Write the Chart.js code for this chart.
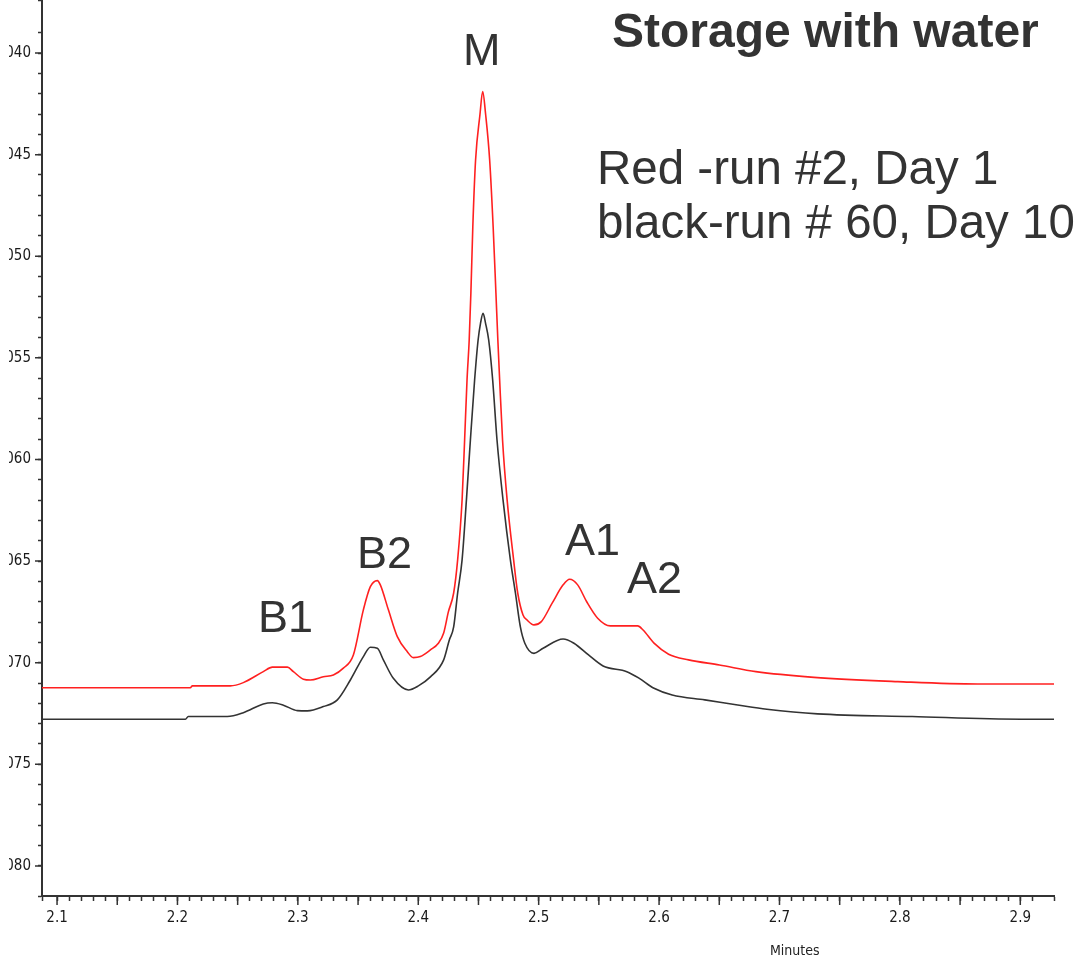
<!DOCTYPE html>
<html>
<head>
<meta charset="utf-8">
<script src="https://cdn.jsdelivr.net/npm/chart.js@4.4.1/dist/chart.umd.min.js"></script>
<style>
  html, body { margin: 0; padding: 0; background: #fff; }
  #wrap { position: relative; width: 1084px; height: 963px; overflow: hidden; }
  #clip { position: absolute; left: 9px; top: 0; width: 1075px; height: 963px; overflow: hidden; }
  #c { position: absolute; left: -9px; top: 0; }
  .t { position: absolute; font-family: 'Liberation Sans', Arial, sans-serif; color: #333; line-height: 1; white-space: nowrap; }
  .peak { font-size: 45px; }
  .note { font-size: 47.5px; }
  .title { font-size: 48px; font-weight: bold; }
  .axis { font-family: 'Liberation Sans Narrow', 'DejaVu Sans Condensed', 'Arial Narrow', sans-serif; font-size: 14px; color: #222; }
</style>
</head>
<body>
<div id="wrap">
  <div id="clip"><canvas id="c" width="1084" height="963"></canvas></div>
  <div class="t title" style="left:612px; top:7px;">Storage with water</div>
  <div class="t note" style="left:597px; top:144px;">Red -run #2, Day 1</div>
  <div class="t note" style="left:597px; top:198px;">black-run # 60, Day 10</div>
  <div class="t peak" style="left:463px; top:27px;">M</div>
  <div class="t peak" style="left:258px; top:594px;">B1</div>
  <div class="t peak" style="left:357px; top:530px;">B2</div>
  <div class="t peak" style="left:565px; top:517px;">A1</div>
  <div class="t peak" style="left:627px; top:555px;">A2</div>
  <div class="t axis" style="left:770px; top:943px;">Minutes</div>
</div>
<script>
// Red: run #2, Day 1
const redTime = [2.0875, 2.2107, 2.2124, 2.2439, 2.2547, 2.2713, 2.2788, 2.2913, 2.2963, 2.3046,
  2.3104, 2.3212, 2.3295, 2.3378, 2.3461, 2.3544, 2.3602, 2.3660, 2.3685, 2.3752,
  2.3826, 2.3909, 2.3959, 2.4017, 2.4101, 2.4167, 2.4211, 2.4250, 2.4294, 2.4327,
  2.4364, 2.4385, 2.4405, 2.4423, 2.4437, 2.4453, 2.4476, 2.4512, 2.4535, 2.4560,
  2.4593, 2.4622, 2.4645, 2.4661, 2.4676, 2.4700, 2.4738, 2.4792, 2.4826, 2.4870,
  2.4904, 2.4961, 2.5022, 2.5112, 2.5203, 2.5257, 2.5324, 2.5399, 2.5490, 2.5595,
  2.5822, 2.5867, 2.5958, 2.6079, 2.6245, 2.6501, 2.6804, 2.7287, 2.7982, 2.8646, 2.9280];
const redSignal = [-0.07123, -0.07123, -0.07114, -0.07114, -0.07098, -0.07044, -0.07022, -0.07022, -0.07044, -0.07081,
  -0.07085, -0.07069, -0.07060, -0.07027, -0.06962, -0.06740, -0.06626, -0.06596, -0.06617, -0.06740,
  -0.06872, -0.06946, -0.06975, -0.06970, -0.06937, -0.06904, -0.06854, -0.06750, -0.06657, -0.06494,
  -0.06199, -0.05904, -0.05609, -0.05412, -0.05181, -0.04856, -0.04526, -0.04305, -0.04190, -0.04305,
  -0.04526, -0.04856, -0.05181, -0.05412, -0.05609, -0.05904, -0.06199, -0.06494, -0.06657, -0.06765,
  -0.06790, -0.06814, -0.06798, -0.06707, -0.06617, -0.06589, -0.06617, -0.06700, -0.06781, -0.06819,
  -0.06819, -0.06839, -0.06904, -0.06958, -0.06986, -0.07011, -0.07044, -0.07072, -0.07093, -0.07105, -0.07105];

// Black: run #60, Day 10
const blackTime = [2.0875, 2.2066, 2.2090, 2.2414, 2.2547, 2.2713, 2.2788, 2.2880, 2.2996, 2.3079,
  2.3212, 2.3328, 2.3436, 2.3544, 2.3602, 2.3660, 2.3710, 2.3793, 2.3918, 2.4001,
  2.4101, 2.4211, 2.4258, 2.4294, 2.4327, 2.4364, 2.4400, 2.4433, 2.4468, 2.4497,
  2.4517, 2.4538, 2.4559, 2.4585, 2.4618, 2.4654, 2.4704, 2.4765, 2.4807, 2.4848,
  2.4885, 2.4961, 2.5037, 2.5203, 2.5293, 2.5414, 2.5535, 2.5732, 2.5836, 2.5958,
  2.6109, 2.6380, 2.6653, 2.6895, 2.7317, 2.8102, 2.9008, 2.9280];
const blackSignal = [-0.07278, -0.07278, -0.07265, -0.07265, -0.07246, -0.07203, -0.07197, -0.07209, -0.07236, -0.07237,
  -0.07216, -0.07183, -0.07085, -0.06970, -0.06924, -0.06929, -0.06986, -0.07077, -0.07134, -0.07114,
  -0.07070, -0.06986, -0.06888, -0.06824, -0.06657, -0.06494, -0.06199, -0.05904, -0.05609, -0.05412,
  -0.05330, -0.05281, -0.05330, -0.05412, -0.05609, -0.05904, -0.06199, -0.06494, -0.06657, -0.06824,
  -0.06904, -0.06954, -0.06929, -0.06883, -0.06904, -0.06962, -0.07016, -0.07044, -0.07077, -0.07126,
  -0.07159, -0.07183, -0.07208, -0.07229, -0.07252, -0.07265, -0.07278, -0.07278];

// labelled ticks
const xTickValues = [2.1, 2.2, 2.3, 2.4, 2.5, 2.6, 2.7, 2.8, 2.9];
const yTickValues = [-0.040, -0.045, -0.050, -0.055, -0.060, -0.065, -0.070, -0.075, -0.080];

const AXIS_FONT = "'Liberation Sans Narrow', 'DejaVu Sans Condensed', 'Arial Narrow', sans-serif";
const near = (v, list) => list.find(t => Math.abs(t - v) < 1e-7);

// longer ticks at labelled values (and half steps on x)
const longTicks = {
  id: 'longTicks',
  afterDraw(chart){
    const {ctx, scales:{x, y}} = chart;
    ctx.save();
    ctx.strokeStyle = '#333';
    ctx.lineWidth = 1.5;
    ctx.beginPath();
    for (let k = 42; k <= 58; k++){
      const px = x.getPixelForValue(k / 20);
      ctx.moveTo(px, x.top); ctx.lineTo(px, x.top + 9);
    }
    yTickValues.forEach(v => {
      const py = y.getPixelForValue(v);
      ctx.moveTo(y.right, py); ctx.lineTo(y.right - 7, py);
    });
    ctx.stroke();
    ctx.restore();
  }
};

new Chart(document.getElementById('c'), {
  type: 'line',
  data: {
    datasets: [
      { label: 'Red -run #2, Day 1', data: redTime.map((t, i) => ({x: t, y: redSignal[i]})),
        borderColor: '#ff2020', borderWidth: 1.6, pointRadius: 0, cubicInterpolationMode: 'monotone' },
      { label: 'black-run # 60, Day 10', data: blackTime.map((t, i) => ({x: t, y: blackSignal[i]})),
        borderColor: '#333333', borderWidth: 1.6, pointRadius: 0, cubicInterpolationMode: 'monotone' }
    ]
  },
  options: {
    responsive: false,
    animation: false,
    layout: { padding: { left: 0, right: 30, top: 0, bottom: 0 } },
    plugins: { legend: { display: false }, tooltip: { enabled: false } },
    scales: {
      x: {
        type: 'linear', min: 2.0875, max: 2.928,
        border: { display: true, color: '#333', width: 2 },
        grid: { drawOnChartArea: false, drawTicks: true, tickLength: 5, tickColor: '#333', tickWidth: 1.5 },
        ticks: {
          stepSize: 0.01, autoSkip: false, maxRotation: 0, padding: 8, color: '#1a1a1a',
          font: { family: AXIS_FONT, size: 15 },
          callback: v => { const t = near(v, xTickValues); return t !== undefined ? t.toFixed(1) : ''; }
        },
        afterFit: s => { s.height = 67; s.paddingLeft = 0; s.paddingRight = 0; }
      },
      y: {
        type: 'linear', min: -0.08148, max: -0.03739,
        border: { display: true, color: '#333', width: 2 },
        grid: { drawOnChartArea: false, drawTicks: true, tickLength: 4, tickColor: '#333', tickWidth: 1.5 },
        ticks: {
          stepSize: 0.001, autoSkip: false, padding: 7, color: '#1a1a1a',
          font: { family: AXIS_FONT, size: 15 },
          callback: v => { const t = near(v, yTickValues); return t !== undefined ? t.toFixed(3) : ''; }
        },
        afterFit: s => { s.width = 42; s.paddingTop = 0; s.paddingBottom = 0; }
      }
    }
  },
  plugins: [longTicks]
});
</script>
</body>
</html>
